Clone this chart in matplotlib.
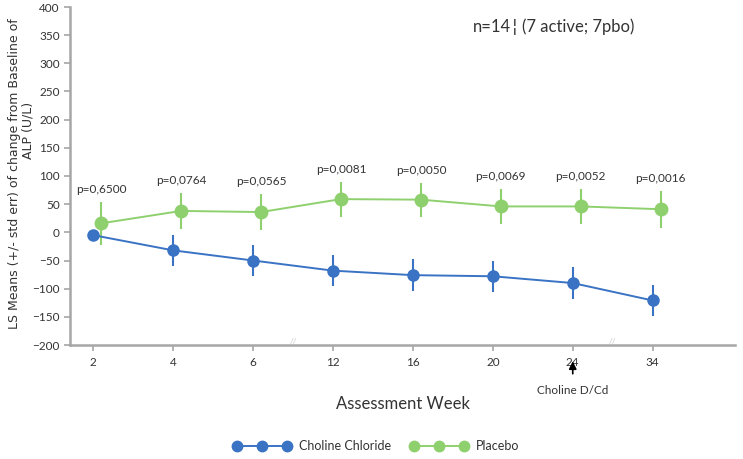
import matplotlib
matplotlib.use("Agg")
import matplotlib.pyplot as plt
import numpy as np
from matplotlib.lines import Line2D
from matplotlib.legend_handler import HandlerLine2D

weeks = ["2", "4", "6", "12", "16", "20", "24", "34"]
choline_mean = [-5, -32, -50, -68, -76, -78, -90, -121]
choline_err = [10, 28, 28, 28, 28, 28, 28, 28]
placebo_mean = [16, 38, 36, 59, 58, 46, 46, 41]
placebo_err = [38, 32, 32, 31, 30, 31, 31, 33]
p_values = ["p=0,6500", "p=0,0764", "p=0,0565", "p=0,0081", "p=0,0050", "p=0,0069", "p=0,0052", "p=0,0016"]
y_ticks = [-200, -150, -100, -50, 0, 50, 100, 150, 200, 250, 300, 350, 400]

plt.rcParams['font.family'] = ['Lato', 'DejaVu Sans']
blue = "#3a73c4"
green = "#8fd06e"
axis_gray = "#a6a6a6"
txt = "#333333"

fig = plt.figure(figsize=(7.43, 4.59), dpi=100)
ax = fig.add_axes([70/743, 1 - 345/459, 665/743, 338/459])

x = np.arange(len(weeks))
off = 0.1

ax.errorbar(x, choline_mean, yerr=choline_err, color=blue, marker='o', ms=8,
            lw=1.4, elinewidth=1.5, capsize=0, zorder=3)
ax.errorbar(x + off, placebo_mean, yerr=placebo_err, color=green, marker='o', ms=9,
            lw=1.4, elinewidth=1.5, capsize=0, zorder=3)

for i, p in enumerate(p_values):
    top = placebo_mean[i] + placebo_err[i]
    ax.annotate(p, (x[i] + off, top), xytext=(0, 5), textcoords='offset points',
                ha='center', va='bottom', fontsize=8.5, color=txt)

ax.set_xlim(-0.29, 8.03)
ax.set_ylim(-200, 400)
ax.set_yticks(y_ticks)
ax.set_xticks(x)
ax.set_xticklabels(weeks)
ax.tick_params(axis='both', colors=axis_gray, labelcolor=txt, labelsize=8.5,
               length=4, width=1.2)
ax.tick_params(axis='x', pad=5)
for s in ['top', 'right']:
    ax.spines[s].set_visible(False)
for s in ['left', 'bottom']:
    ax.spines[s].set_color(axis_gray)
    ax.spines[s].set_linewidth(1.8)

# axis break marks
for bx in [2.5, 6.5]:
    ax.text(bx, -200, "//", ha='center', va='bottom', fontsize=6, color="#c8c8c8")

ax.set_xlabel("Assessment Week", fontsize=12, color=txt, labelpad=20)

# y-axis label (two lines, as in the reference)
fig.text(15/743, 1 - 174/459, "LS Means (+/- std err) of change from Baseline of",
         rotation=90, ha='center', va='center', fontsize=9, color=txt,
         family=['DejaVu Sans'])
fig.text(28/743, 1 - 130/459, "ALP (U/L)",
         rotation=90, ha='center', va='center', fontsize=9, color=txt,
         family=['DejaVu Sans'])

# n text; the broken-bar glyph drawn in DejaVu Sans
t1 = fig.text(473/743, 1 - 27/459, "n=14", fontsize=12, color=txt, va='center', ha='left')
fig.canvas.draw()
bb = t1.get_window_extent()
t2 = fig.text(bb.x1 / 743 + 1/743, 1 - 27/459, "\u00a6", fontsize=12, color=txt,
              va='center', ha='left', family=['DejaVu Sans'])
fig.canvas.draw()
bb2 = t2.get_window_extent()
fig.text(bb2.x1 / 743 + 4/743, 1 - 27/459, "(7 active; 7pbo)", fontsize=12,
         color=txt, va='center', ha='left')

# Choline D/Cd annotation
ax.annotate("", xy=(6, -224), xytext=(6, -256), annotation_clip=False,
            arrowprops=dict(arrowstyle='-|>', color='black', lw=1.2, mutation_scale=11))
ax.text(6, -280, "Choline D/Cd", ha='center', va='center', fontsize=8.5,
        color=txt, clip_on=False)


class Handler3(HandlerLine2D):
    def create_artists(self, legend, orig_handle, xdescent, ydescent, width, height, fontsize, trans):
        xs = np.linspace(-xdescent, width - xdescent, 3)
        y = (height - ydescent) / 2
        line = Line2D(xs, [y] * 3, color=orig_handle.get_color(), lw=1.4,
                      marker='o', ms=7.5, transform=trans)
        return [line]


h1 = Line2D([0], [0], color=blue)
h2 = Line2D([0], [0], color=green)
fig.legend([h1, h2], ["Choline Chloride", "Placebo"], loc='center',
           bbox_to_anchor=(378/743, 1 - 446/459), ncol=2, frameon=False,
           fontsize=9, handlelength=4.0, handletextpad=1.0, columnspacing=1.8,
           handler_map={Line2D: Handler3()}, labelcolor=txt)

fig.savefig("out.png", dpi=100, facecolor='white')
